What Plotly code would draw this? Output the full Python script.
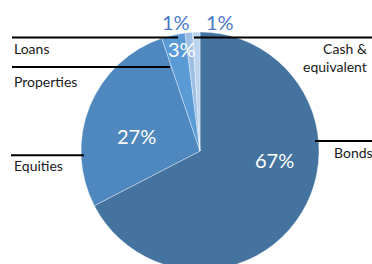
import plotly.graph_objects as go

categories = ["Bonds", "Equities", "Properties", "Loans", "Cash &<br>equivalent"]
values = [67.4, 27.4, 3.2, 1.0, 1.0]
colors = ["#44739f", "#4f88be", "#5b9bd5", "#9dbfe3", "#bdd4ee"]

W, H = 372, 270
total = sum(values)
pct = [f"{round(v / total * 100)}%" for v in values]

def px(x):
    return x / W

def py(y):
    return 1 - y / H

fig = go.Figure(go.Pie(
    labels=categories,
    values=values,
    sort=False,
    direction="clockwise",
    rotation=0,
    marker=dict(colors=colors, line=dict(color="rgba(255,255,255,0.6)", width=0.6)),
    textinfo="none",
    showlegend=False,
    hoverinfo="label+percent",
    domain=dict(x=[px(81), px(319)], y=[0, py(32)]),
))

shapes = []
lines = [
    (12, 178, 37.5),   # Loans
    (12, 170, 67),     # Properties
    (11, 84, 155.3),   # Equities
    (194, 372, 37.5),  # Cash
    (315, 372, 141),   # Bonds
]
for x0, x1, y in lines:
    shapes.append(dict(type="line", xref="paper", yref="paper",
                       x0=px(x0), x1=px(x1), y0=py(y), y1=py(y),
                       line=dict(color="black", width=2)))

lab_font = dict(family="Lato", size=14, color="#1a1a1a")
annotations = [
    dict(text="Loans", x=px(12), y=py(48), xanchor="left", yanchor="middle"),
    dict(text="Properties", x=px(12), y=py(81), xanchor="left", yanchor="middle"),
    dict(text="Equities", x=px(12), y=py(165), xanchor="left", yanchor="middle"),
    dict(text=categories[4], x=px(369), y=py(58), xanchor="right", yanchor="middle", align="right"),
    dict(text=categories[0], x=px(332), y=py(152), xanchor="left", yanchor="middle"),
]
for a in annotations:
    a.update(xref="paper", yref="paper", showarrow=False, font=lab_font)

in_font = dict(family="Lato", size=20, color="white")
out_font = dict(family="Lato", size=20, color="#4a78c4")
pct_pos = [(274, 160, in_font), (136, 136, in_font), (182, 49, in_font),
           (176, 22, out_font), (220, 22, out_font)]
for t, (x, y, f) in zip(pct, pct_pos):
    annotations.append(dict(text=t, x=px(x), y=py(y), xref="paper", yref="paper",
                            showarrow=False, font=f, xanchor="center", yanchor="middle"))

fig.update_layout(
    width=W, height=H,
    margin=dict(l=0, r=0, t=0, b=0),
    paper_bgcolor="white", plot_bgcolor="white",
    shapes=shapes, annotations=annotations,
)

fig.write_html("out.html", config={"displayModeBar": False},
               post_script="document.body.style.margin='0';document.body.style.overflow='hidden';")
